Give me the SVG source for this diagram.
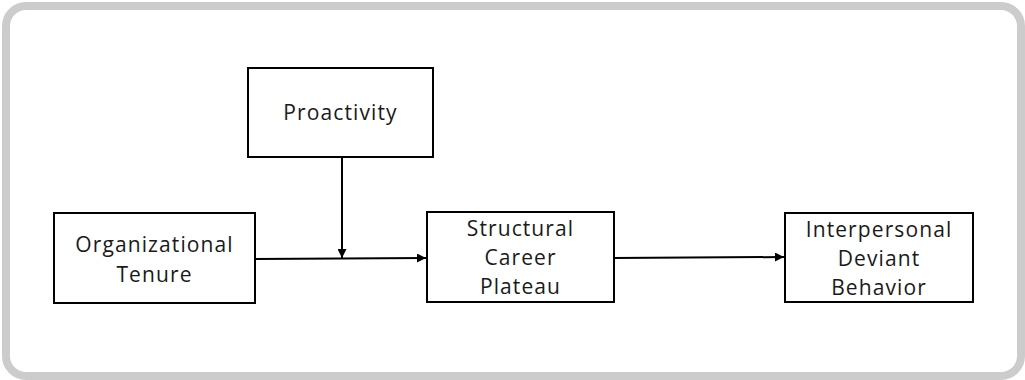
<svg xmlns="http://www.w3.org/2000/svg" width="1025" height="380" viewBox="0 0 1025 380">
  <style>
    .box { fill: #ffffff; stroke: #000000; stroke-width: 2; }
    .lbl { font-family: "Open Sans", "Liberation Sans", sans-serif; font-size: 21px; letter-spacing: 1.1px; fill: #1a1a1a; text-anchor: middle; dominant-baseline: central; }
    .conn { stroke: #000000; stroke-width: 2; fill: none; marker-end: url(#arrow); }
  </style>
  <defs>
    <marker id="arrow" viewBox="0 0 10 10" refX="10" refY="5" markerWidth="5" markerHeight="4.5" orient="auto" markerUnits="strokeWidth">
      <path d="M0,0 L10,5 L0,10 z" fill="#000000"/>
    </marker>
  </defs>
  <rect x="0" y="0" width="1025" height="380" fill="#ffffff"/>
  <rect x="6" y="6" width="1015" height="370" rx="20" ry="20" fill="#ffffff" stroke="#cccccc" stroke-width="8"/>

  <g id="proactivity">
    <rect class="box" x="248" y="68" width="185" height="89"/>
    <text class="lbl" x="340.5" y="112">Proactivity</text>
  </g>
  <g id="organizational-tenure">
    <rect class="box" x="54" y="213" width="201" height="90"/>
    <text class="lbl" x="154.5" y="244">Organizational</text>
    <text class="lbl" x="154.5" y="274">Tenure</text>
  </g>
  <g id="structural-career-plateau">
    <rect class="box" x="427" y="212" width="187" height="90"/>
    <text class="lbl" x="520.5" y="228">Structural</text>
    <text class="lbl" x="520.5" y="257">Career</text>
    <text class="lbl" x="520.5" y="286">Plateau</text>
  </g>
  <g id="interpersonal-deviant-behavior">
    <rect class="box" x="785" y="213" width="188" height="89"/>
    <text class="lbl" x="879" y="229">Interpersonal</text>
    <text class="lbl" x="879" y="258">Deviant</text>
    <text class="lbl" x="879" y="287">Behavior</text>
  </g>

  <g id="connectors">
    <line class="conn" x1="342" y1="157" x2="342" y2="258"/>
    <line class="conn" x1="255" y1="259" x2="426" y2="258"/>
    <line class="conn" x1="614" y1="258" x2="784" y2="257"/>
  </g>
</svg>
